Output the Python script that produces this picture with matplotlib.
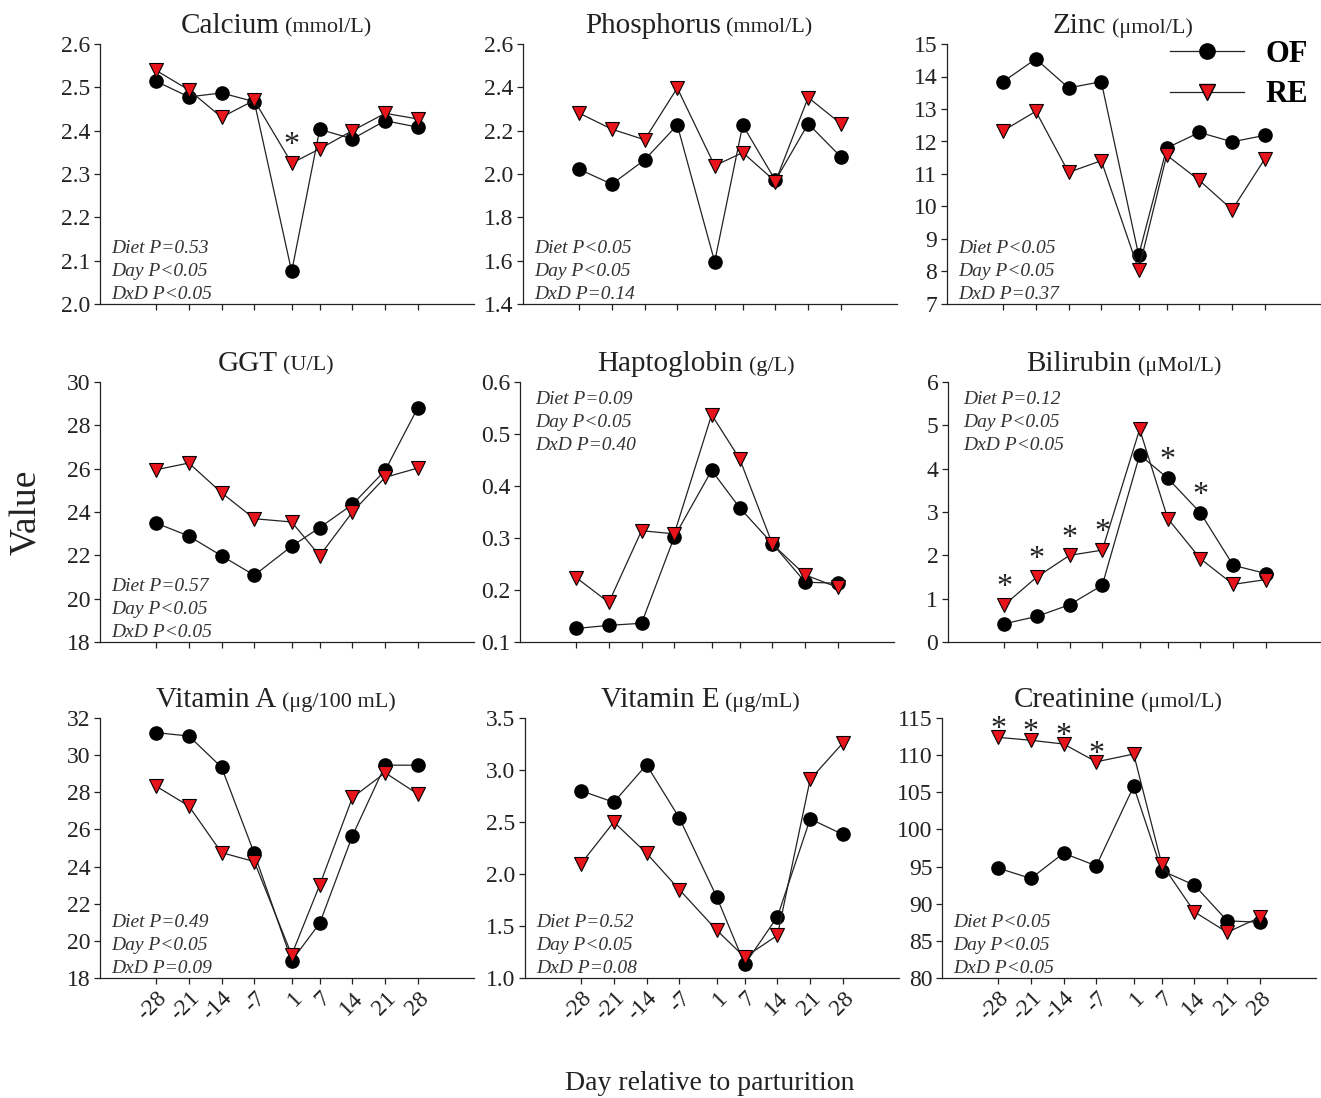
import numpy as np
import matplotlib
matplotlib.use('Agg')
from matplotlib import pyplot as plt
from matplotlib.lines import Line2D
from matplotlib.offsetbox import TextArea, HPacker, AnchoredOffsetbox

plt.rcParams['font.family'] = ['Liberation Serif', 'DejaVu Serif']

days = [-28, -21, -14, -7, 1, 7, 14, 21, 28]
day_labels = ['-28', '-21', '-14', '-7', '1', '7', '14', '21', '28']

# panel names, units, y ticks
names = ['Calcium', 'Phosphorus', 'Zinc', 'GGT', 'Haptoglobin', 'Bilirubin',
         'Vitamin A', 'Vitamin E', 'Creatinine']
units = ['(mmol/L)', '(mmol/L)', '(\u03bcmol/L)', '(U/L)', '(g/L)', '(\u03bcMol/L)',
         '(\u03bcg/100 mL)', '(\u03bcg/mL)', '(\u03bcmol/L)']
yticks = [
    [2.0, 2.1, 2.2, 2.3, 2.4, 2.5, 2.6],
    [1.4, 1.6, 1.8, 2.0, 2.2, 2.4, 2.6],
    [7, 8, 9, 10, 11, 12, 13, 14, 15],
    [18, 20, 22, 24, 26, 28, 30],
    [0.1, 0.2, 0.3, 0.4, 0.5, 0.6],
    [0, 1, 2, 3, 4, 5, 6],
    [18, 20, 22, 24, 26, 28, 30, 32],
    [1.0, 1.5, 2.0, 2.5, 3.0, 3.5],
    [80, 85, 90, 95, 100, 105, 110, 115],
]
ytick_fmt = ['%.1f', '%.1f', '%d', '%d', '%.1f', '%d', '%d', '%.1f', '%d']

# OF diet (circles)
of_calcium = [2.514, 2.478, 2.487, 2.467, 2.075, 2.403, 2.381, 2.423, 2.408]
of_phos = [2.022, 1.953, 2.065, 2.226, 1.595, 2.226, 1.97, 2.232, 2.079]
of_zinc = [13.84, 14.54, 13.65, 13.84, 8.50, 11.80, 12.28, 11.99, 12.19]
of_ggt = [23.49, 22.89, 21.98, 21.08, 22.42, 23.28, 24.35, 25.92, 28.82]
of_hapto = [0.126, 0.132, 0.136, 0.302, 0.430, 0.358, 0.289, 0.215, 0.213]
of_bili = [0.42, 0.59, 0.86, 1.31, 4.32, 3.78, 2.98, 1.77, 1.58]
of_vita = [31.21, 31.03, 29.35, 24.71, 18.93, 20.95, 25.66, 29.46, 29.46]
of_vite = [2.80, 2.69, 3.05, 2.54, 1.78, 1.13, 1.59, 2.53, 2.38]
of_creat = [94.8, 93.4, 96.8, 95.1, 105.8, 94.45, 92.5, 87.7, 87.5]

# RE diet (triangles)
re_calcium = [2.539, 2.494, 2.431, 2.470, 2.325, 2.358, 2.400, 2.440, 2.427]
re_phos = [2.281, 2.207, 2.158, 2.397, 2.038, 2.099, 1.965, 2.353, 2.232]
re_zinc = [12.33, 12.93, 11.05, 11.41, 8.05, 11.58, 10.80, 9.90, 11.47]
re_ggt = [25.95, 26.26, 24.89, 23.69, 23.54, 21.98, 24.0, 25.6, 26.03]
re_hapto = [0.224, 0.176, 0.314, 0.308, 0.537, 0.452, 0.288, 0.229, 0.205]
re_bili = [0.85, 1.50, 2.0, 2.12, 4.91, 2.85, 1.92, 1.33, 1.44]
re_vita = [28.33, 27.26, 24.75, 24.27, 19.25, 23.01, 27.72, 29.05, 27.90]
re_vite = [2.10, 2.50, 2.20, 1.85, 1.46, 1.20, 1.41, 2.91, 3.26]
re_creat = [112.4, 112.0, 111.5, 109.1, 110.15, 95.35, 88.9, 86.15, 88.17]

of_all = [of_calcium, of_phos, of_zinc, of_ggt, of_hapto, of_bili, of_vita, of_vite, of_creat]
re_all = [re_calcium, re_phos, re_zinc, re_ggt, re_hapto, re_bili, re_vita, re_vite, re_creat]

stats = [
    ['Diet P=0.53', 'Day P<0.05', 'DxD P<0.05'],
    ['Diet P<0.05', 'Day P<0.05', 'DxD P=0.14'],
    ['Diet P<0.05', 'Day P<0.05', 'DxD P=0.37'],
    ['Diet P=0.57', 'Day P<0.05', 'DxD P<0.05'],
    ['Diet P=0.09', 'Day P<0.05', 'DxD P=0.40'],
    ['Diet P=0.12', 'Day P<0.05', 'DxD P<0.05'],
    ['Diet P=0.49', 'Day P<0.05', 'DxD P=0.09'],
    ['Diet P=0.52', 'Day P<0.05', 'DxD P=0.08'],
    ['Diet P<0.05', 'Day P<0.05', 'DxD P<0.05'],
]
stats_top = [False, False, False, False, True, True, False, False, False]

# days with significant difference (asterisk)
sig_days = [[1], [], [], [], [], [-28, -21, -14, -7, 7, 14], [], [], [-28, -21, -14, -7]]

W, H = 1321, 1098
fig = plt.figure(figsize=(W / 100, H / 100), dpi=100)

lefts = [100, 523, 947, 100, 520, 948, 100, 525, 942]
bottoms = [304, 304, 304, 642, 642, 642, 978, 978, 978]
aw, ah = 374, 260
red = '#e8141c'
ink = '#222222'

for i in range(9):
    ax = fig.add_axes([lefts[i] / W, 1 - bottoms[i] / H, aw / W, ah / H])
    ax.plot(days, of_all[i], '-o', color=ink, lw=0.9, ms=9.5, mfc='black', mec='black', zorder=3)
    ax.plot(days, re_all[i], '-v', color=ink, lw=0.9, ms=10, mfc=red, mec='black', mew=0.8, zorder=4)
    ax.set_xlim(-40, 40)
    ax.set_ylim(yticks[i][0], yticks[i][-1])
    ax.set_yticks(yticks[i])
    ax.set_yticklabels([ytick_fmt[i] % v for v in yticks[i]])
    ax.set_xticks(days)
    if i >= 6:
        ax.set_xticklabels(day_labels, rotation=45, ha='right', va='top', rotation_mode='anchor', fontsize=21)
    else:
        ax.set_xticklabels([])
    for s in ['top', 'right']:
        ax.spines[s].set_visible(False)
    for s in ['left', 'bottom']:
        ax.spines[s].set_color(ink)
        ax.spines[s].set_linewidth(0.9)
    ax.tick_params(direction='out', length=4, width=0.9, color=ink, labelsize=17, labelcolor=ink, pad=3)

    # title: name + smaller unit
    box = HPacker(children=[TextArea(names[i], textprops=dict(size=21, color=ink)),
                            TextArea(units[i], textprops=dict(size=16, color=ink))],
                  align='baseline', pad=0, sep=4)
    ab = AnchoredOffsetbox(loc='lower center', child=box, pad=0, frameon=False, borderpad=0,
                           bbox_to_anchor=(0.47, 1.02), bbox_transform=ax.transAxes)
    ax.add_artist(ab)

    # stats
    txt = '\n'.join(stats[i])
    if stats_top[i]:
        ax.text(0.04, 0.965, txt, transform=ax.transAxes, ha='left', va='top', fontsize=14,
                style='italic', color='#333333', linespacing=1.45)
    else:
        ax.text(0.03, 0.005, txt, transform=ax.transAxes, ha='left', va='bottom', fontsize=14,
                style='italic', color='#333333', linespacing=1.45)

    # asterisks
    for d in sig_days[i]:
        k = days.index(d)
        top = max(of_all[i][k], re_all[i][k])
        off = 0 if i == 8 else 7
        ax.annotate('*', (d, top), xytext=(0, off), textcoords='offset points', ha='center',
                    va='baseline', fontsize=23, color=ink)

    if i == 2:
        handles = [Line2D([], [], color=ink, lw=0.9, marker='o', ms=11, mfc='black', mec='black'),
                   Line2D([], [], color=ink, lw=0.9, marker='v', ms=11, mfc=red, mec='black')]
        ax.legend(handles, ['OF', 'RE'], loc='upper right', bbox_to_anchor=(1.005, 1.075), frameon=False,
                  prop=dict(size=22, weight='bold'), handlelength=2.4, handletextpad=0.7,
                  labelspacing=0.38, borderpad=0)

fig.text(27 / W, 1 - 512 / H, 'Value', rotation=90, ha='center', va='center', fontsize=27, color=ink)
fig.text(710 / W, 1 - 1083 / H, 'Day relative to parturition', ha='center', va='center', fontsize=20,
         color=ink)

fig.savefig('out.png', dpi=100)
